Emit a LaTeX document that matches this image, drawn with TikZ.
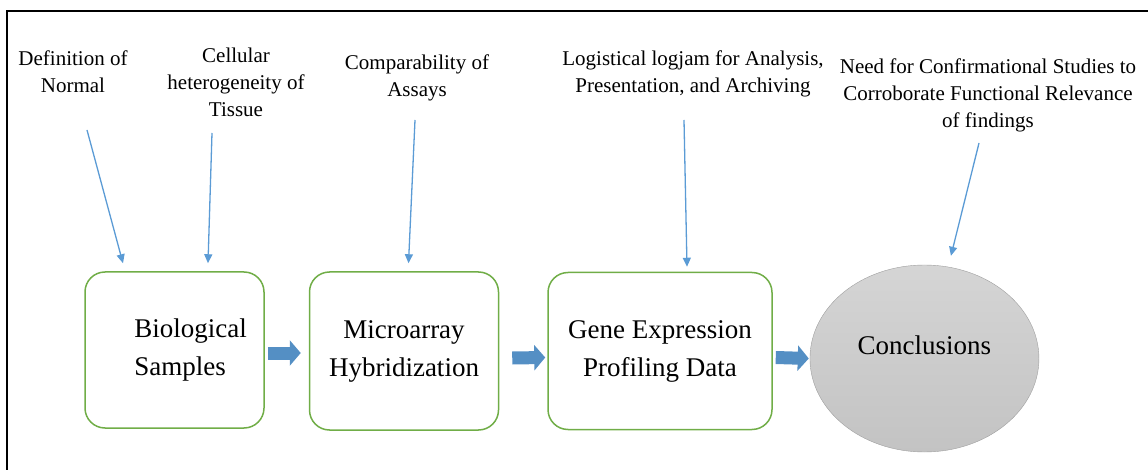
\documentclass[tikz,border=0pt]{standalone}
\usepackage{fontspec}
\setmainfont{Liberation Serif}
\usetikzlibrary{arrows.meta,positioning,shapes.geometric}
\definecolor{officeblue}{HTML}{5B9BD5}
\definecolor{officegreen}{HTML}{70AD47}
\tikzset{%
	stage/.style     = {draw=officegreen, line width=1.5pt, rounded corners=20pt, align=center, font=\fontsize{27}{38}\selectfont},
	stagetext/.style = {align=left, inner sep=0pt, font=\fontsize{27}{38}\selectfont},
	outcome/.style   = {ellipse, draw=gray!75, top color=gray!33, bottom color=gray!47, minimum width=229pt, minimum height=187pt},
	issue/.style     = {align=center, inner sep=0pt, font=\fontsize{21}{27}\selectfont},
	pointer/.style   = {officeblue, line width=1.3pt, -{Triangle[length=9pt,width=8pt]}},
	flow/.style      = {officeblue!92!black, line width=13pt, -{Triangle[length=11pt,width=25pt]}},
}

\begin{document}
\begin{tikzpicture}[x=1pt, y=-1pt]
	\useasboundingbox (0,0) rectangle (1148,470);
	\draw[line width=2pt] (7,470) |- (1148,11);
	% pipeline
	\node[stage, minimum width=179pt, minimum height=156pt] (bio) at (174.5,350) {};
	\node[stagetext, anchor=west] (biotext) at ([xshift=50pt]bio.west) {Biological\\Samples};
	\node[stage, minimum width=189pt, minimum height=158pt, right=44pt of bio, yshift=-1pt] (micro) {Microarray\\Hybridization};
	\node[stage, minimum width=224pt, minimum height=157pt, right=48pt of micro] (gene) {Gene Expression\\Profiling Data};
	\node[outcome, right=37pt of gene, yshift=-7.5pt] (concl) {};
	\node[stagetext] (concltext) at ([yshift=13pt]concl.center) {Conclusions};
	\draw[flow] ([xshift=3pt,yshift=-3pt]bio.east) -- ([xshift=-8pt,yshift=-2pt]micro.west);
	\draw[flow] ([xshift=13pt,yshift=-7pt]micro.east) -- ([xshift=-2pt,yshift=-6.5pt]gene.west);
	\draw[flow] ([xshift=3pt,yshift=-6.5pt]gene.east) -- ([xshift=-1pt]concl.west);
	% issues
	\node[issue] (normal) at (73,71.5) {Definition of\\Normal};
	\node[issue] (tissue) at (236,82) {Cellular\\heterogeneity of\\Tissue};
	\node[issue] (assays) at (417,78) {Comparability of\\Assays};
	\node[issue] (logjam) at (693,74) {Logistical logjam for Analysis,\\Presentation, and Archiving};
	\node[issue] (confirm) at (988,95) {Need for Confirmational Studies to\\Corroborate Functional Relevance\\of findings};
	\draw[pointer] ([xshift=14pt,yshift=-58.5pt]normal.center) -- ([xshift=-51.5pt,yshift=8pt]bio.north);
	\draw[pointer] ([xshift=-24pt,yshift=-51pt]tissue.center) -- ([xshift=33.5pt,yshift=8pt]bio.north);
	\draw[pointer] ([xshift=-2pt,yshift=-42pt]assays.center) -- ([xshift=4.5pt,yshift=8pt]micro.north);
	\draw[pointer] ([xshift=-9pt,yshift=-46pt]logjam.center) -- ([xshift=27pt,yshift=5pt]gene.north);
	\draw[pointer] ([xshift=-9pt,yshift=-48pt]confirm.center) -- ([xshift=26.5pt,yshift=9pt]concl.north);
\end{tikzpicture}
\end{document}
